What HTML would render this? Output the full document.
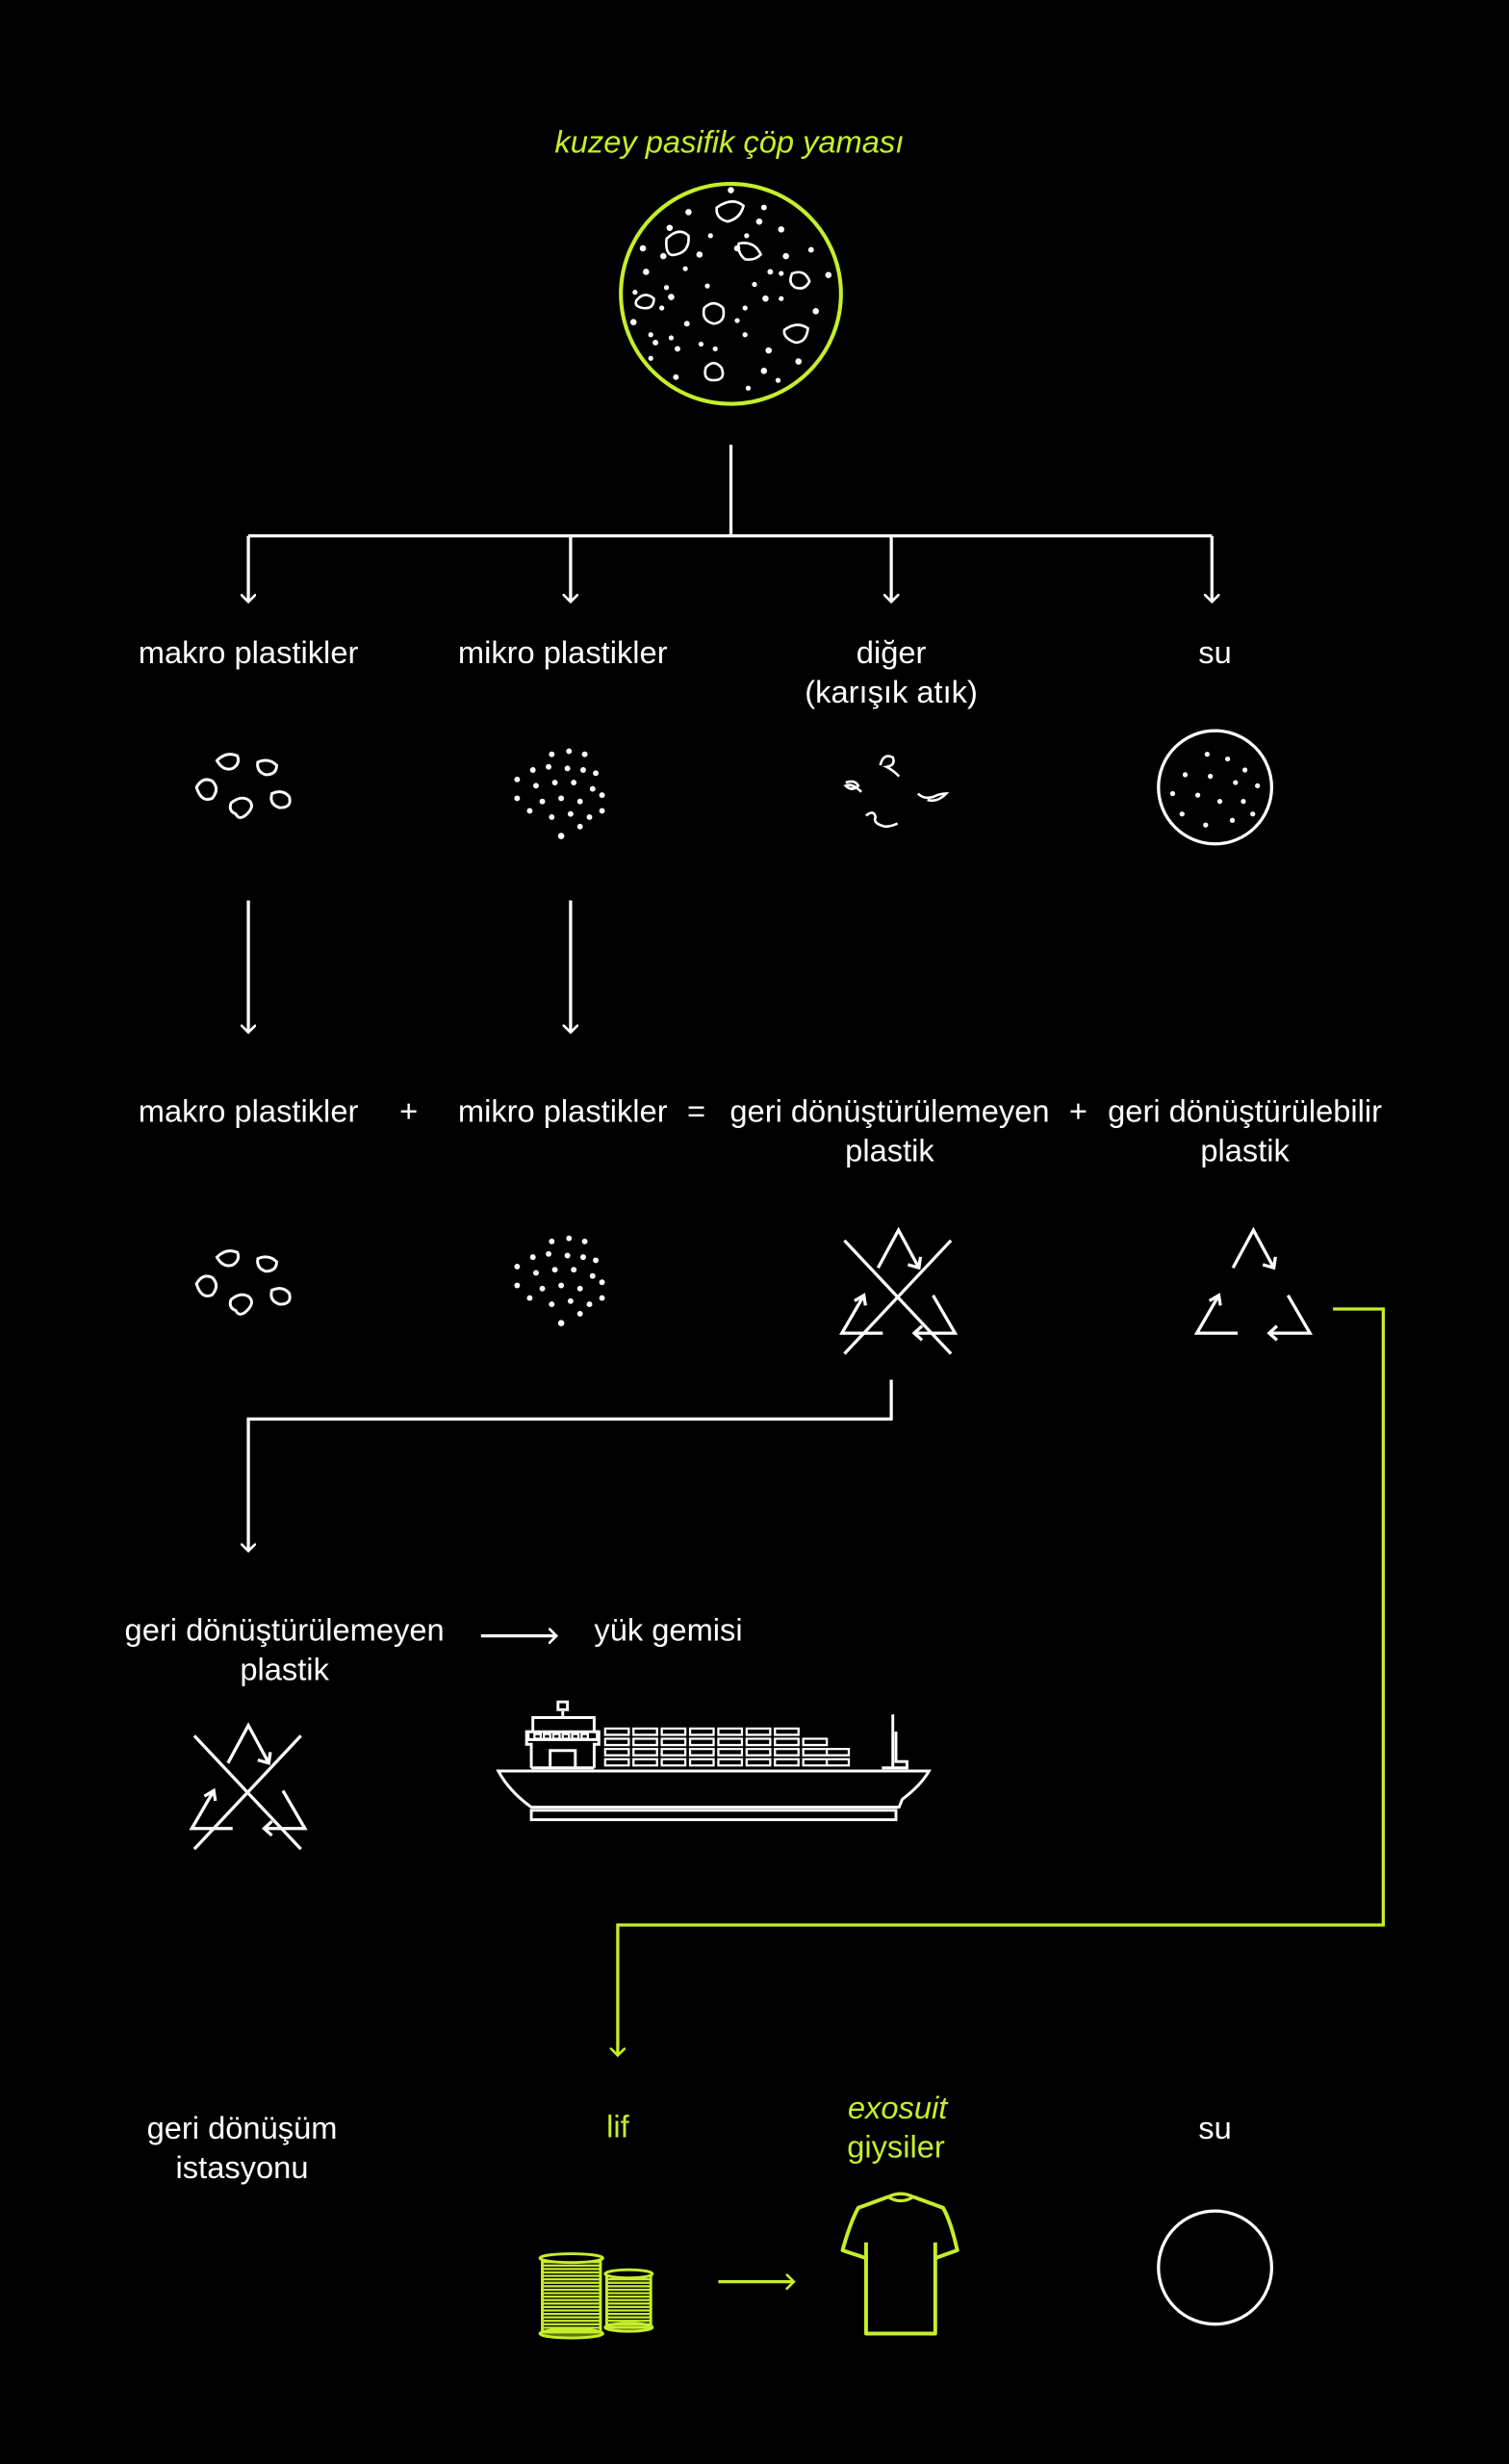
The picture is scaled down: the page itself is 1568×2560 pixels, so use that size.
<!DOCTYPE html>
<html><head><meta charset="utf-8"><style>
html,body{margin:0;padding:0;background:#000;}
svg{display:block}
text{font-family:"Liberation Sans",sans-serif;font-size:20px;fill:#fff;font-weight:300}
.g{fill:#c6ee2a}
</style></head><body>
<svg width="1568" height="2560" viewBox="0 0 960 1568" preserveAspectRatio="none" xmlns="http://www.w3.org/2000/svg">
<defs>
<g id="rec" fill="none" stroke="#fff" stroke-width="2">
<path d="M-13,24 L0,0 L13,24 M6,22 L13,24 L14,17"/>
<path d="M-22,41.5 L-36,65.6 L-10,65.6 M-28,45 L-22,41.5 L-21,48"/>
<path d="M22,41.5 L36,65.6 L10,65.6 M15,61 L10,65.6 L15,70"/>
</g>
<g id="xrec"><use href="#rec"/><path d="M-34.4,6.6 L33.4,78.7 M33.4,6.6 L-34.4,78.7" stroke="#fff" stroke-width="2"/></g>
<g id="macro" fill="none" stroke="#fff" stroke-width="1.8">
<path d="M-20,-16 q6,-6 13,-3 q2,5 -3,8 q-6,2 -10,-5z"/>
<path d="M6,-15 q7,-3 12,2 q0,6 -7,6 q-6,-2 -5,-8z"/>
<path d="M-33,1 q4,-7 10,-4 q5,5 0,11 q-7,3 -10,-7z"/>
<path d="M-11,11 q6,-5 11,-2 q5,4 -2,10 q-4,3 -6,-1 q-5,-2 -3,-7z"/>
<path d="M15,5 q7,-3 11,2 q2,7 -6,7 q-7,-2 -5,-9z"/>
</g>
<g id="micro" fill="#fff">
<circle cx="-28" cy="-6" r="1.8"/><circle cx="-18" cy="-12" r="1.8"/><circle cx="-6" cy="-22" r="1.8"/><circle cx="5" cy="-24" r="1.8"/><circle cx="15" cy="-22" r="1.8"/><circle cx="-8" cy="-14" r="1.8"/><circle cx="4" cy="-13" r="1.8"/><circle cx="14" cy="-12" r="1.8"/><circle cx="22" cy="-10" r="1.8"/><circle cx="-16" cy="-2" r="1.8"/><circle cx="-4" cy="-4" r="1.8"/><circle cx="8" cy="-4" r="1.8"/><circle cx="20" cy="0" r="1.8"/><circle cx="26" cy="4" r="1.8"/><circle cx="-28" cy="6" r="1.8"/><circle cx="-12" cy="8" r="1.8"/><circle cx="0" cy="6" r="1.8"/><circle cx="12" cy="8" r="1.8"/><circle cx="-20" cy="14" r="1.8"/><circle cx="-6" cy="18" r="1.8"/><circle cx="6" cy="16" r="1.8"/><circle cx="18" cy="18" r="1.8"/><circle cx="26" cy="14" r="1.8"/><circle cx="0" cy="30" r="2"/><circle cx="12" cy="24" r="1.8"/>
</g>
<pattern id="str" width="4" height="2.2" patternUnits="userSpaceOnUse"><rect width="4" height="1.4" fill="#c6ee2a"/></pattern>
<marker id="a" markerWidth="10" markerHeight="10" refX="5" refY="5" orient="auto" markerUnits="userSpaceOnUse"><path d="M0,0 L5,5 L0,10" fill="none" stroke="#fff" stroke-width="1.6"/></marker>
<marker id="ag" markerWidth="10" markerHeight="10" refX="5" refY="5" orient="auto" markerUnits="userSpaceOnUse"><path d="M0,0 L5,5 L0,10" fill="none" stroke="#c6ee2a" stroke-width="1.6"/></marker>
</defs>

<text x="464" y="97" text-anchor="middle" class="g" font-style="italic" font-size="21">kuzey pasifik çöp yaması</text>
<circle cx="465" cy="187" r="70" fill="none" stroke="#c6ee2a" stroke-width="2.5"/>
<g fill="none" stroke="#fff" stroke-width="1.6">
<path d="M456,132 q10,-7 17,-1 q-2,8 -10,10 q-8,-2 -7,-9z"/>
<path d="M424,152 q8,-8 14,-2 q1,10 -8,12 q-7,2 -6,-10z"/>
<path d="M470,155 q10,-2 14,7 q-4,4 -10,3 q-5,-4 -4,-10z"/>
<path d="M504,174 q8,-3 11,5 q-3,6 -9,4 q-5,-3 -2,-9z"/>
<path d="M405,191 q5,-6 11,-1 q0,7 -7,6 q-6,-1 -4,-5z"/>
<path d="M448,196 q6,-6 12,0 q2,9 -6,10 q-8,-2 -6,-10z"/>
<path d="M499,210 q8,-6 15,-1 q-1,9 -8,9 q-8,-3 -7,-8z"/>
<path d="M449,234 q5,-6 10,0 q3,8 -5,8 q-7,0 -5,-8z"/>
</g>
<g fill="#fff">
<circle cx="465" cy="121" r="2"/><circle cx="438" cy="135" r="2"/><circle cx="486" cy="132" r="1.8"/><circle cx="483" cy="141" r="2"/><circle cx="497" cy="146" r="2"/><circle cx="452" cy="150" r="1.6"/><circle cx="475" cy="150" r="1.6"/><circle cx="426" cy="145" r="2"/><circle cx="409" cy="158" r="2"/><circle cx="445" cy="162" r="2"/><circle cx="469" cy="158" r="2"/><circle cx="516" cy="159" r="1.8"/><circle cx="500" cy="163" r="2"/><circle cx="422" cy="163" r="2"/><circle cx="411" cy="173" r="2"/><circle cx="436" cy="171" r="1.6"/><circle cx="490" cy="173" r="1.8"/><circle cx="497" cy="174" r="1.6"/><circle cx="424" cy="183" r="1.6"/><circle cx="450" cy="182" r="1.6"/><circle cx="480" cy="181" r="1.6"/><circle cx="527" cy="175" r="2"/><circle cx="487" cy="190" r="2"/><circle cx="404" cy="186" r="1.6"/><circle cx="427" cy="189" r="2"/><circle cx="474" cy="196" r="1.6"/><circle cx="497" cy="190" r="1.6"/><circle cx="421" cy="196" r="1.6"/><circle cx="469" cy="204" r="1.6"/><circle cx="519" cy="198" r="2"/><circle cx="474" cy="213" r="1.6"/><circle cx="403" cy="205" r="2"/><circle cx="437" cy="206" r="1.8"/><circle cx="427" cy="215" r="1.6"/><circle cx="417" cy="218" r="1.8"/><circle cx="431" cy="222" r="1.8"/><circle cx="446" cy="219" r="1.6"/><circle cx="455" cy="222" r="1.6"/><circle cx="489" cy="223" r="2"/><circle cx="486" cy="236" r="2"/><circle cx="508" cy="230" r="2"/><circle cx="414" cy="228" r="1.6"/><circle cx="430" cy="240" r="1.8"/><circle cx="476" cy="247" r="1.6"/><circle cx="495" cy="242" r="1.6"/><circle cx="414" cy="213" r="1.6"/>
</g>

<g fill="none" stroke="#fff" stroke-width="2">
<path d="M465,283 V341 M158,341 H771"/>
<path d="M158,341 V383" marker-end="url(#a)"/><path d="M363,341 V383" marker-end="url(#a)"/><path d="M567,341 V383" marker-end="url(#a)"/><path d="M771,341 V383" marker-end="url(#a)"/>
<path d="M158,573 V657" marker-end="url(#a)"/><path d="M363,573 V657" marker-end="url(#a)"/>
<path d="M567,878 V903 H158 V987" marker-end="url(#a)"/>
<path d="M306,1041 H354" marker-end="url(#a)"/>
</g>
<path d="M848,833 H880 V1225 H393 V1308" fill="none" stroke="#c6ee2a" stroke-width="2" marker-end="url(#ag)"/>
<path d="M457,1452 H505" fill="none" stroke="#c6ee2a" stroke-width="2" marker-end="url(#ag)"/>

<text x="158" y="422" text-anchor="middle">makro plastikler</text>
<text x="358" y="422" text-anchor="middle">mikro plastikler</text>
<text x="567" y="422" text-anchor="middle">diğer</text>
<text x="567" y="447" text-anchor="middle">(karışık atık)</text>
<text x="773" y="422" text-anchor="middle">su</text>

<use href="#macro" x="158" y="500"/>
<use href="#micro" x="357" y="502"/>
<g fill="none" stroke="#fff" stroke-width="1.6">
<path d="M560,487 q2,-8 8,-5 q2,5 -4,6 q4,2 8,6"/>
<path d="M538,498 q6,-2 8,2 q-4,4 -8,0 q4,-2 10,4"/>
<path d="M584,505 q4,4 10,2 q4,-2 8,-2 q-6,6 -12,4"/>
<path d="M551,519 q5,-4 6,1 q-2,4 6,6 q4,0 8,-2"/>
</g>
<circle cx="773" cy="501" r="36" fill="none" stroke="#fff" stroke-width="2"/>
<g fill="#fff"><circle cx="754" cy="493" r="1.6"/><circle cx="768" cy="480" r="1.6"/><circle cx="781" cy="483" r="1.6"/><circle cx="792" cy="490" r="1.6"/><circle cx="770" cy="494" r="1.6"/><circle cx="786" cy="498" r="1.6"/><circle cx="800" cy="500" r="1.6"/><circle cx="762" cy="506" r="1.6"/><circle cx="776" cy="510" r="1.6"/><circle cx="791" cy="510" r="1.6"/><circle cx="752" cy="518" r="1.6"/><circle cx="767" cy="525" r="1.6"/><circle cx="784" cy="522" r="1.6"/><circle cx="797" cy="518" r="1.6"/><circle cx="746" cy="505" r="1.6"/></g>

<text x="158" y="714" text-anchor="middle">makro plastikler</text>
<text x="260" y="714" text-anchor="middle">+</text>
<text x="358" y="714" text-anchor="middle">mikro plastikler</text>
<text x="443" y="714" text-anchor="middle">=</text>
<text x="566" y="714" text-anchor="middle">geri dönüştürülemeyen</text>
<text x="566" y="739" text-anchor="middle">plastik</text>
<text x="686" y="714" text-anchor="middle">+</text>
<text x="792" y="714" text-anchor="middle">geri dönüştürülebilir</text>
<text x="792" y="739" text-anchor="middle">plastik</text>

<use href="#macro" x="158" y="816"/>
<use href="#micro" x="357" y="812"/>
<use href="#xrec" x="571.6" y="782.8"/>
<use href="#rec" x="797.4" y="782.8"/>

<text x="181" y="1044" text-anchor="middle">geri dönüştürülemeyen</text>
<text x="181" y="1069" text-anchor="middle">plastik</text>
<text x="378" y="1044">yük gemisi</text>
<use href="#xrec" x="158" y="1098"/>

<g fill="none" stroke="#fff" stroke-width="1.8">
<path d="M317,1127 H591 Q586,1136 574,1145 L572,1150 H338 Q324,1140 317,1127Z"/>
<rect x="338" y="1152" width="232" height="6"/>
<path d="M338,1125 V1110 H335 V1102 H339 V1093 H378 V1102 H381 V1110 H378 V1125 M338,1125 H378 M350,1125 V1114 H366 V1125"/>
<path d="M336,1102 H380 V1107 H336Z"/>
<path d="M358,1093 V1089 M355,1083 H361 V1088 H355Z"/>
<path d="M568,1091 V1125 M561,1125 H577 V1121 H570 V1102"/>
</g>
<g fill="none" stroke="#fff" stroke-width="1.4">
<path d="M340,1103.5 h4 v3 h-4z M346,1103.5 h4 v3 h-4z M352,1103.5 h4 v3 h-4z M358,1103.5 h4 v3 h-4z M364,1103.5 h4 v3 h-4z M370,1103.5 h4 v3 h-4z"/>
<path d="M385,1100h15v4h-15z M403,1100h15v4h-15z M421,1100h15v4h-15z M439,1100h15v4h-15z M457,1100h15v4h-15z M475,1100h15v4h-15z M493,1100h15v4h-15z"/>
<path d="M385,1106.5h15v4h-15z M403,1106.5h15v4h-15z M421,1106.5h15v4h-15z M439,1106.5h15v4h-15z M457,1106.5h15v4h-15z M475,1106.5h15v4h-15z M493,1106.5h15v4h-15z M511,1106.5h15v4h-15z"/>
<path d="M385,1113h15v4h-15z M403,1113h15v4h-15z M421,1113h15v4h-15z M439,1113h15v4h-15z M457,1113h15v4h-15z M475,1113h15v4h-15z M493,1113h15v4h-15z M511,1113h15v4h-15z M526,1113h14v4h-14z"/>
<path d="M385,1119.5h15v4h-15z M403,1119.5h15v4h-15z M421,1119.5h15v4h-15z M439,1119.5h15v4h-15z M457,1119.5h15v4h-15z M475,1119.5h15v4h-15z M493,1119.5h15v4h-15z M511,1119.5h15v4h-15z M526,1119.5h14v4h-14z"/>
</g>

<text x="154" y="1361" text-anchor="middle">geri dönüşüm</text>
<text x="154" y="1386" text-anchor="middle">istasyonu</text>
<text x="393" y="1360" text-anchor="middle" class="g">lif</text>
<text x="571" y="1348" text-anchor="middle" class="g" font-style="italic">exosuit</text>
<text x="570" y="1373" text-anchor="middle" class="g">giysiler</text>
<text x="773" y="1361" text-anchor="middle">su</text>

<g stroke="#c6ee2a" stroke-width="1.8">
<rect x="345" y="1437" width="37" height="47" fill="url(#str)"/>
<ellipse cx="363.5" cy="1437" rx="20" ry="2.8" fill="#000"/>
<ellipse cx="363.5" cy="1485" rx="20" ry="2.8" fill="#c6ee2a" fill-opacity="0.5"/>
<rect x="386" y="1447" width="28" height="34" fill="url(#str)"/>
<ellipse cx="400" cy="1447" rx="15" ry="2.6" fill="#000"/>
<ellipse cx="400" cy="1481" rx="15" ry="2.6" fill="#c6ee2a" fill-opacity="0.5"/>
</g>
<path d="M565,1398 L546,1405 Q541,1414 536,1432 L551,1437 M551,1427 L551,1485 L595,1485 L595,1427 M595,1437 L609,1432 Q605,1414 600,1405 L581,1398" fill="none" stroke="#c6ee2a" stroke-width="2.4" stroke-linejoin="round"/>
<path d="M565,1398 Q573,1403 581,1398 Q573,1394 565,1398Z" fill="none" stroke="#c6ee2a" stroke-width="2"/>
<circle cx="773" cy="1443" r="36" fill="none" stroke="#fff" stroke-width="2"/>
</svg>
</body></html>
